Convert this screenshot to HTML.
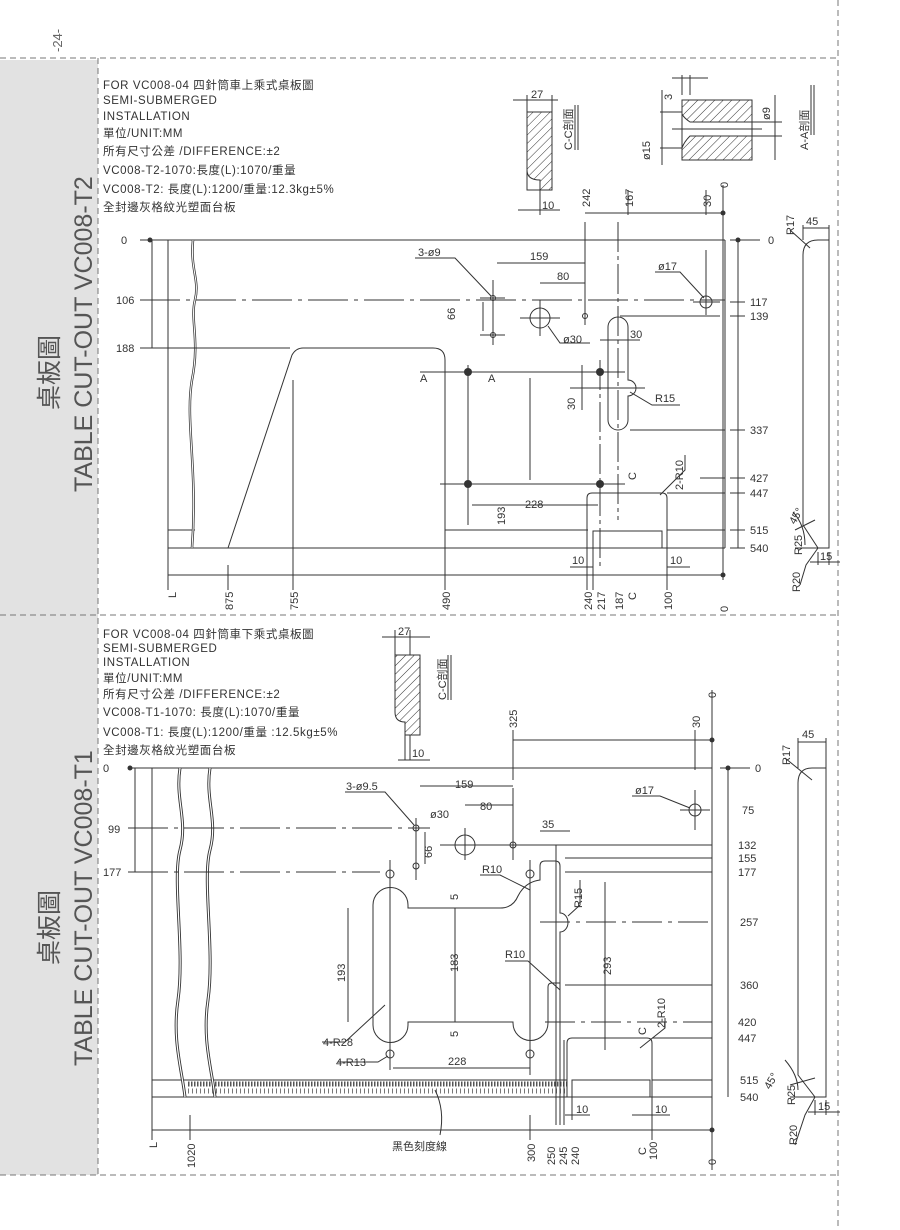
<!DOCTYPE html>
<html><head><meta charset="utf-8"><style>
html,body{margin:0;padding:0;background:#fff}
svg{display:block}
text{font-family:"Liberation Sans","Noto Sans CJK TC",sans-serif;fill:#333}
.t{font-size:11.5px;letter-spacing:0.6px}
.d{font-size:11px}
</style></head><body>
<svg width="900" height="1230" viewBox="0 0 900 1230" xmlns="http://www.w3.org/2000/svg">
<defs>
<pattern id="h" width="6" height="6" patternUnits="userSpaceOnUse" patternTransform="rotate(45)"><line x1="0" y1="0" x2="0" y2="6" stroke="#333" stroke-width="1"/></pattern>
</defs>
<rect x="0" y="60" width="98" height="1115" fill="#e2e2e2"/>
<g stroke="#777" stroke-width="1" stroke-dasharray="6,4" fill="none">
<line x1="0" y1="58" x2="838" y2="58"/>
<line x1="0" y1="615" x2="838" y2="615"/>
<line x1="0" y1="1175" x2="838" y2="1175"/>
<line x1="98" y1="58" x2="98" y2="1175"/>
<line x1="838" y1="0" x2="838" y2="1230"/>
</g>
<text transform="translate(62,52) rotate(-90)" style="font-size:13px;fill:#666">-24-</text>
<g style="fill:#555">
<text transform="translate(92,492) rotate(-90)" style="font-size:25px;fill:#555">TABLE CUT-OUT VC008-T2</text>
<text transform="translate(58,410) rotate(-90)" style="font-size:25px;fill:#555">桌板圖</text>
<text transform="translate(92,1066) rotate(-90)" style="font-size:25px;fill:#555">TABLE CUT-OUT VC008-T1</text>
<text transform="translate(58,965) rotate(-90)" style="font-size:25px;fill:#555">桌板圖</text>
</g>

<!-- ============ TOP PANEL ============ -->
<g class="t">
<text x="103" y="89">FOR  VC008-04 四針筒車上乘式桌板圖</text>
<text x="103" y="104">SEMI-SUBMERGED</text>
<text x="103" y="120">INSTALLATION</text>
<text x="103" y="137">單位/UNIT:MM</text>
<text x="103" y="155">所有尺寸公差 /DIFFERENCE:±2</text>
<text x="103" y="174">VC008-T2-1070:長度(L):1070/重量</text>
<text x="103" y="193">VC008-T2: 長度(L):1200/重量:12.3kg±5%</text>
<text x="103" y="211">全封邊灰格紋光塑面台板</text>
</g>
<g stroke="#333" stroke-width="1" fill="none">
<line x1="140" y1="240" x2="725" y2="240"/>
<line x1="168" y1="240" x2="168" y2="548"/>
<line x1="168" y1="548" x2="725" y2="548"/>
<line x1="725" y1="240" x2="725" y2="548"/>
<line x1="168" y1="530" x2="195" y2="530"/>
<line x1="445" y1="530" x2="588" y2="530"/>
<line x1="667" y1="530" x2="725" y2="530"/>
<path d="M193,240 C190,270 200,280 195,300 C190,320 200,340 192,380 C185,420 198,470 192,548" stroke-width="2.5"/>
<path d="M193,240 C190,270 200,280 195,300 C190,320 200,340 192,380 C185,420 198,470 192,548" stroke="#fff" stroke-width="1"/>
<path d="M228,548 L292,355 Q296,348 303,348 L433,348 Q445,348 445,360 L445,548"/>
<line x1="140" y1="300" x2="725" y2="300" stroke-dasharray="40,6,4,6"/>
<line x1="140" y1="348" x2="290" y2="348"/>
<line x1="152" y1="240" x2="152" y2="348"/>
<path d="M608,327 A10,10 0 0 1 628,327 L628,380 A8,8 0 0 1 628,396 L628,420 A10,10 0 0 1 608,420 Z"/>
<path d="M587,548 L587,498 Q587,493 592,493 L662,493 Q667,493 667,498 L667,548"/>
<rect x="593" y="531" width="69" height="17"/>
<circle cx="540" cy="318" r="10"/>
<circle cx="706" cy="302" r="6"/>
<circle cx="493" cy="298" r="2.5"/>
<circle cx="493" cy="335" r="2.5"/>
<circle cx="585" cy="316" r="2.5"/>
<line x1="480" y1="298" x2="505" y2="298"/>
<line x1="480" y1="335" x2="505" y2="335"/>
<line x1="493" y1="280" x2="493" y2="345"/>
<line x1="540" y1="300" x2="540" y2="336"/>
<line x1="520" y1="318" x2="560" y2="318"/>
<line x1="693" y1="302" x2="720" y2="302"/>
<line x1="706" y1="250" x2="706" y2="315"/>
<line x1="585" y1="222" x2="585" y2="325"/>
<line x1="618" y1="222" x2="618" y2="520" stroke-dasharray="30,4,4,4"/>
<line x1="620" y1="316" x2="720" y2="316"/>
<line x1="420" y1="372" x2="625" y2="372"/>
<line x1="440" y1="484" x2="625" y2="484"/>
<line x1="468" y1="365" x2="468" y2="525"/>
<line x1="600" y1="360" x2="600" y2="570" stroke-dasharray="30,4,4,4"/>
<line x1="570" y1="388" x2="645" y2="388"/>
<line x1="630" y1="430" x2="725" y2="430"/>
<line x1="700" y1="478" x2="725" y2="478"/>
<line x1="667" y1="493" x2="725" y2="493"/>
<line x1="497" y1="263" x2="585" y2="263"/>
<line x1="540" y1="283" x2="585" y2="283"/>
<line x1="483" y1="302" x2="483" y2="331"/>
<line x1="530" y1="378" x2="530" y2="480"/>
<line x1="472" y1="505" x2="598" y2="505"/>
<line x1="582" y1="365" x2="582" y2="410"/>
<line x1="600" y1="340" x2="640" y2="340"/>
<line x1="585" y1="213" x2="723" y2="213"/>
<line x1="723" y1="185" x2="723" y2="580"/>
<line x1="706" y1="190" x2="706" y2="215"/>
<line x1="628" y1="190" x2="628" y2="215"/>
<line x1="738" y1="240" x2="738" y2="548"/>
<line x1="730" y1="240" x2="760" y2="240"/>
<line x1="730" y1="302" x2="745" y2="302"/><line x1="730" y1="316" x2="745" y2="316"/>
<line x1="730" y1="430" x2="745" y2="430"/><line x1="730" y1="478" x2="745" y2="478"/>
<line x1="730" y1="493" x2="745" y2="493"/><line x1="730" y1="530" x2="745" y2="530"/>
<line x1="730" y1="548" x2="745" y2="548"/>
<line x1="168" y1="575" x2="723" y2="575"/>
<line x1="168" y1="548" x2="168" y2="590"/>
<line x1="228" y1="565" x2="228" y2="590"/>
<line x1="293" y1="380" x2="293" y2="590"/>
<line x1="445" y1="548" x2="445" y2="590"/>
<line x1="587" y1="548" x2="587" y2="590"/>
<line x1="593" y1="548" x2="593" y2="590"/>
<line x1="667" y1="548" x2="667" y2="590"/>
<line x1="570" y1="567" x2="593" y2="567"/>
<line x1="667" y1="567" x2="690" y2="567"/>
<polyline points="415,258 455,258 491,296"/>
<polyline points="655,272 680,272 704,298"/>
<polyline points="548,326 560,343 590,343"/>
<polyline points="630,392 652,405 680,405"/>
<polyline points="685,455 685,470 660,495"/>
<rect x="527" y="112" width="25" height="78" fill="none"/>
<path d="M527,112 L527,170 Q527,180 540,180 L540,190 L552,190 L552,112 Z" fill="url(#h)"/>
<line x1="513" y1="100" x2="558" y2="100"/>
<line x1="527" y1="95" x2="527" y2="112"/><line x1="552" y1="95" x2="552" y2="112"/>
<line x1="518" y1="210" x2="560" y2="210"/>
<line x1="540" y1="190" x2="540" y2="215"/>
<line x1="575" y1="105" x2="575" y2="150"/><line x1="578" y1="105" x2="578" y2="150"/>
<path d="M682,100 L752,100 L752,122 L690,122 Q684,118 682,114 Z" fill="url(#h)"/>
<path d="M682,160 L752,160 L752,136 L690,136 Q684,142 682,148 Z" fill="url(#h)"/>
<rect x="682" y="100" width="70" height="60"/>
<line x1="672" y1="129" x2="762" y2="129"/>
<line x1="660" y1="112" x2="682" y2="112"/><line x1="660" y1="148" x2="682" y2="148"/>
<line x1="662" y1="90" x2="662" y2="165"/>
<line x1="682" y1="75" x2="682" y2="95"/><line x1="690" y1="75" x2="690" y2="95"/>
<line x1="672" y1="78" x2="708" y2="78"/>
<line x1="752" y1="122" x2="782" y2="122"/><line x1="752" y1="136" x2="782" y2="136"/>
<line x1="775" y1="95" x2="775" y2="160"/>
<line x1="811" y1="85" x2="811" y2="135"/><line x1="814" y1="85" x2="814" y2="135"/>
<path d="M803,255 Q803,240 818,240 L829,240 L829,548 L818,548 L803,525 Z"/>
<line x1="803" y1="228" x2="829" y2="228"/>
<line x1="803" y1="225" x2="803" y2="240"/><line x1="829" y1="225" x2="829" y2="240"/>
<line x1="790" y1="230" x2="810" y2="248"/>
<path d="M793,512 Q805,525 805,545"/>
<line x1="795" y1="530" x2="815" y2="520"/>
<line x1="795" y1="548" x2="818" y2="548"/>
<polyline points="800,585 806,565 818,548"/>
<line x1="818" y1="552" x2="818" y2="565"/><line x1="829" y1="552" x2="829" y2="565"/>
<line x1="810" y1="562" x2="840" y2="562"/>
</g>
<g fill="#333">
<circle cx="150" cy="240" r="2.5"/>
<circle cx="468" cy="372" r="4"/><circle cx="600" cy="372" r="4"/>
<circle cx="468" cy="484" r="4"/><circle cx="600" cy="484" r="4"/>
<circle cx="723" cy="213" r="2.5"/><circle cx="738" cy="240" r="2.5"/><circle cx="723" cy="575" r="2.5"/>
</g>
<g class="d">
<text x="121" y="244">0</text>
<text x="116" y="304">106</text>
<text x="116" y="352">188</text>
<text x="418" y="256">3-ø9</text>
<text x="530" y="260">159</text>
<text x="557" y="280">80</text>
<text x="658" y="270">ø17</text>
<text x="563" y="343">ø30</text>
<text x="630" y="338">30</text>
<text x="655" y="402">R15</text>
<text x="525" y="508">228</text>
<text x="572" y="564">10</text>
<text x="670" y="564">10</text>
<text x="420" y="382">A</text><text x="488" y="382">A</text>
<text x="768" y="244">0</text>
<text x="750" y="306">117</text>
<text x="750" y="320">139</text>
<text x="750" y="434">337</text>
<text x="750" y="482">427</text>
<text x="750" y="497">447</text>
<text x="750" y="534">515</text>
<text x="750" y="552">540</text>
<text x="531" y="98">27</text>
<text x="542" y="209">10</text>
<text x="806" y="225">45</text>
<text x="820" y="560">15</text>
<text transform="translate(505,525) rotate(-90)">193</text>
<text transform="translate(455,320) rotate(-90)">66</text>
<text transform="translate(575,410) rotate(-90)">30</text>
<text transform="translate(590,207) rotate(-90)">242</text>
<text transform="translate(633,207) rotate(-90)">167</text>
<text transform="translate(711,207) rotate(-90)">30</text>
<text transform="translate(728,188) rotate(-90)">0</text>
<text transform="translate(176,598) rotate(-90)">L</text>
<text transform="translate(233,610) rotate(-90)">875</text>
<text transform="translate(298,610) rotate(-90)">755</text>
<text transform="translate(450,610) rotate(-90)">490</text>
<text transform="translate(592,610) rotate(-90)">240</text>
<text transform="translate(605,610) rotate(-90)">217</text>
<text transform="translate(623,610) rotate(-90)">187</text>
<text transform="translate(672,610) rotate(-90)">100</text>
<text transform="translate(728,612) rotate(-90)">0</text>
<text transform="translate(683,490) rotate(-90)">2-R10</text>
<text transform="translate(650,160) rotate(-90)">ø15</text>
<text transform="translate(770,120) rotate(-90)">ø9</text>
<text transform="translate(672,100) rotate(-90)">3</text>
<text transform="translate(572,150) rotate(-90)">C-C剖面</text>
<text transform="translate(808,150) rotate(-90)">A-A剖面</text>
<text transform="translate(794,235) rotate(-90)">R17</text>
<text transform="translate(802,555) rotate(-90)">R25</text>
<text transform="translate(800,592) rotate(-90)">R20</text>
<text transform="translate(795,525) rotate(-60)">45°</text>
<text transform="translate(636,480) rotate(-90)">C</text>
<text transform="translate(636,600) rotate(-90)">C</text>
</g>

<!-- ============ BOTTOM PANEL ============ -->
<g class="t">
<text x="103" y="638">FOR  VC008-04 四針筒車下乘式桌板圖</text>
<text x="103" y="652">SEMI-SUBMERGED</text>
<text x="103" y="666">INSTALLATION</text>
<text x="103" y="682">單位/UNIT:MM</text>
<text x="103" y="698">所有尺寸公差 /DIFFERENCE:±2</text>
<text x="103" y="716">VC008-T1-1070: 長度(L):1070/重量</text>
<text x="103" y="736">VC008-T1: 長度(L):1200/重量 :12.5kg±5%</text>
<text x="103" y="754">全封邊灰格紋光塑面台板</text>
</g>
<g stroke="#333" stroke-width="1" fill="none">
<line x1="128" y1="768" x2="712" y2="768"/>
<line x1="152" y1="768" x2="152" y2="1097"/>
<line x1="152" y1="1097" x2="712" y2="1097"/>
<line x1="712" y1="768" x2="712" y2="1097"/>
<line x1="152" y1="1080" x2="567" y2="1080"/>
<line x1="567" y1="1080" x2="567" y2="1097"/>
<line x1="188" y1="1084" x2="567" y2="1084" stroke-dasharray="1.5,1.5" stroke-width="5" stroke="#555"/>
<line x1="188" y1="1091" x2="567" y2="1091" stroke-dasharray="1,3" stroke-width="5" stroke="#777"/>
<path d="M180,768 C175,800 188,820 180,850 C172,880 185,950 178,1000 C172,1040 182,1070 185,1097" stroke-width="3"/>
<path d="M180,768 C175,800 188,820 180,850 C172,880 185,950 178,1000 C172,1040 182,1070 185,1097" stroke="#fff" stroke-width="1.2"/>
<path d="M210,768 C205,800 218,820 210,850 C202,880 215,950 208,1000 C202,1040 212,1070 215,1097" stroke-width="3"/>
<path d="M210,768 C205,800 218,820 210,850 C202,880 215,950 208,1000 C202,1040 212,1070 215,1097" stroke="#fff" stroke-width="1.2"/>
<path d="M373,905 A17.5,17.5 0 0 1 408,905 L408,908 L500,908 Q513,908 518,896 Q525,882 540,880 L540,866 Q540,861 545,861 L555,861 Q560,861 560,866 L560,913 A8,9.5 0 0 1 560,932 L560,983 L552,983 Q548,983 548,987 L548,1023 A17.5,17.5 0 0 1 513,1023 L513,1022 L408,1022 L408,1025 A17.5,17.5 0 0 1 373,1025 Z"/>
<path d="M567,1097 L567,1043 Q567,1038 572,1038 L647,1038 Q652,1038 652,1043 L652,1097"/>
<rect x="572" y="1080" width="78" height="17"/>
<circle cx="390" cy="874" r="4"/><circle cx="530" cy="874" r="4"/>
<circle cx="390" cy="1054" r="4"/><circle cx="530" cy="1054" r="4"/>
<circle cx="416" cy="828" r="3"/><circle cx="416" cy="866" r="3"/><circle cx="513" cy="845" r="3"/>
<circle cx="465" cy="845" r="10"/><circle cx="695" cy="810" r="6"/>
<line x1="128" y1="828" x2="430" y2="828" stroke-dasharray="40,6,4,6"/>
<line x1="128" y1="872" x2="380" y2="872" stroke-dasharray="40,6,4,6"/>
<line x1="390" y1="860" x2="390" y2="1070"/>
<line x1="530" y1="860" x2="530" y2="1075"/>
<line x1="416" y1="818" x2="416" y2="880"/>
<line x1="513" y1="788" x2="513" y2="860"/>
<line x1="440" y1="845" x2="712" y2="845"/>
<line x1="565" y1="858" x2="712" y2="858"/>
<line x1="565" y1="872" x2="712" y2="872"/>
<line x1="540" y1="922" x2="712" y2="922" stroke-dasharray="30,6,4,6"/>
<line x1="565" y1="985" x2="712" y2="985"/>
<line x1="545" y1="1022" x2="712" y2="1022" stroke-dasharray="30,6,4,6"/>
<line x1="652" y1="1038" x2="712" y2="1038"/>
<line x1="652" y1="1080" x2="712" y2="1080"/>
<line x1="465" y1="828" x2="465" y2="860"/>
<line x1="680" y1="810" x2="710" y2="810"/>
<line x1="695" y1="790" x2="695" y2="830"/>
<line x1="695" y1="730" x2="695" y2="770"/>
<line x1="513" y1="730" x2="513" y2="780"/>
<line x1="556" y1="845" x2="556" y2="1125"/>
<line x1="560" y1="980" x2="560" y2="1125"/>
<line x1="564" y1="1040" x2="564" y2="1125"/>
<line x1="135" y1="768" x2="135" y2="872"/>
<line x1="420" y1="786" x2="513" y2="786"/>
<line x1="465" y1="805" x2="513" y2="805"/>
<line x1="425" y1="832" x2="425" y2="864"/>
<line x1="540" y1="831" x2="570" y2="831"/>
<line x1="348" y1="908" x2="348" y2="1022"/>
<line x1="455" y1="908" x2="455" y2="1022"/>
<line x1="605" y1="882" x2="605" y2="1050"/>
<line x1="393" y1="1068" x2="530" y2="1068"/>
<line x1="513" y1="740" x2="712" y2="740"/>
<line x1="712" y1="690" x2="712" y2="1170"/>
<line x1="728" y1="768" x2="728" y2="1097"/>
<line x1="720" y1="768" x2="750" y2="768"/>
<line x1="152" y1="1130" x2="712" y2="1130"/>
<line x1="152" y1="1097" x2="152" y2="1140"/>
<line x1="190" y1="1115" x2="190" y2="1140"/>
<line x1="530" y1="1115" x2="530" y2="1140"/>
<line x1="652" y1="1097" x2="652" y2="1140"/>
<line x1="572" y1="1097" x2="572" y2="1120"/>
<line x1="565" y1="1115" x2="590" y2="1115"/>
<line x1="632" y1="1115" x2="670" y2="1115"/>
<path d="M435,1090 Q445,1110 440,1135"/>
<polyline points="345,792 385,792 414,825"/>
<polyline points="322,1042 345,1042 385,1005"/>
<polyline points="338,1062 378,1062 388,1056"/>
<polyline points="480,875 500,875 530,890"/>
<polyline points="505,961 528,961 560,990"/>
<polyline points="580,880 580,905 568,916"/>
<polyline points="665,1018 665,1028 640,1048"/>
<polyline points="632,796 660,796 690,808"/>
<path d="M395,655 L420,655 L420,735 L405,735 L405,722 Q395,722 395,712 Z" fill="url(#h)"/>
<line x1="382" y1="637" x2="430" y2="637"/>
<line x1="395" y1="630" x2="395" y2="655"/><line x1="410" y1="630" x2="410" y2="655"/>
<line x1="395" y1="655" x2="395" y2="700"/>
<line x1="405" y1="735" x2="405" y2="760"/><line x1="410" y1="735" x2="410" y2="760"/>
<line x1="398" y1="760" x2="430" y2="760"/>
<line x1="448" y1="655" x2="448" y2="700"/><line x1="451" y1="655" x2="451" y2="700"/>
<path d="M798,783 Q798,768 812,768 L826,768 L826,1097 L815,1097 L798,1075 Z"/>
<line x1="798" y1="742" x2="826" y2="742"/>
<line x1="798" y1="738" x2="798" y2="768"/><line x1="826" y1="738" x2="826" y2="768"/>
<line x1="785" y1="758" x2="812" y2="780"/>
<path d="M785,1060 Q798,1075 798,1090"/>
<line x1="790" y1="1085" x2="815" y2="1078"/>
<line x1="790" y1="1097" x2="815" y2="1097"/>
<polyline points="795,1145 805,1115 815,1097"/>
<line x1="815" y1="1100" x2="815" y2="1115"/><line x1="826" y1="1100" x2="826" y2="1115"/>
<line x1="808" y1="1112" x2="840" y2="1112"/>
</g>
<g fill="#333">
<circle cx="130" cy="768" r="2.5"/><circle cx="712" cy="740" r="2.5"/>
<circle cx="728" cy="768" r="2.5"/><circle cx="712" cy="1130" r="2.5"/>
</g>
<g class="d">
<text x="103" y="772">0</text>
<text x="108" y="833">99</text>
<text x="103" y="876">177</text>
<text x="346" y="790">3-ø9.5</text>
<text x="430" y="818">ø30</text>
<text x="455" y="788">159</text>
<text x="480" y="810">80</text>
<text x="542" y="828">35</text>
<text x="482" y="873">R10</text>
<text x="505" y="958">R10</text>
<text x="635" y="794">ø17</text>
<text x="323" y="1046">4-R28</text>
<text x="336" y="1066">4-R13</text>
<text x="448" y="1065">228</text>
<text x="576" y="1113">10</text>
<text x="655" y="1113">10</text>
<text x="392" y="1150">黑色刻度線</text>
<text x="398" y="635">27</text>
<text x="412" y="757">10</text>
<text x="802" y="738">45</text>
<text x="818" y="1110">15</text>
<text x="742" y="814">75</text>
<text x="738" y="849">132</text>
<text x="738" y="862">155</text>
<text x="738" y="876">177</text>
<text x="740" y="926">257</text>
<text x="740" y="989">360</text>
<text x="738" y="1026">420</text>
<text x="738" y="1042">447</text>
<text x="740" y="1084">515</text>
<text x="740" y="1101">540</text>
<text x="755" y="772">0</text>
<text transform="translate(432,858) rotate(-90)">66</text>
<text transform="translate(345,982) rotate(-90)">193</text>
<text transform="translate(458,972) rotate(-90)">183</text>
<text transform="translate(458,900) rotate(-90)">5</text>
<text transform="translate(458,1037) rotate(-90)">5</text>
<text transform="translate(611,975) rotate(-90)">293</text>
<text transform="translate(582,908) rotate(-90)">R15</text>
<text transform="translate(665,1028) rotate(-90)">2-R10</text>
<text transform="translate(517,728) rotate(-90)">325</text>
<text transform="translate(700,728) rotate(-90)">30</text>
<text transform="translate(716,698) rotate(-90)">0</text>
<text transform="translate(716,1165) rotate(-90)">0</text>
<text transform="translate(157,1148) rotate(-90)">L</text>
<text transform="translate(195,1168) rotate(-90)">1020</text>
<text transform="translate(535,1162) rotate(-90)">300</text>
<text transform="translate(555,1165) rotate(-90)">250</text>
<text transform="translate(567,1165) rotate(-90)">245</text>
<text transform="translate(579,1165) rotate(-90)">240</text>
<text transform="translate(657,1160) rotate(-90)">100</text>
<text transform="translate(646,1155) rotate(-90)">C</text>
<text transform="translate(646,1035) rotate(-90)">C</text>
<text transform="translate(446,700) rotate(-90)">C-C剖面</text>
<text transform="translate(790,765) rotate(-90)">R17</text>
<text transform="translate(795,1105) rotate(-90)">R25</text>
<text transform="translate(797,1145) rotate(-90)">R20</text>
<text transform="translate(770,1090) rotate(-60)">45°</text>
</g>
</svg>
</body></html>
